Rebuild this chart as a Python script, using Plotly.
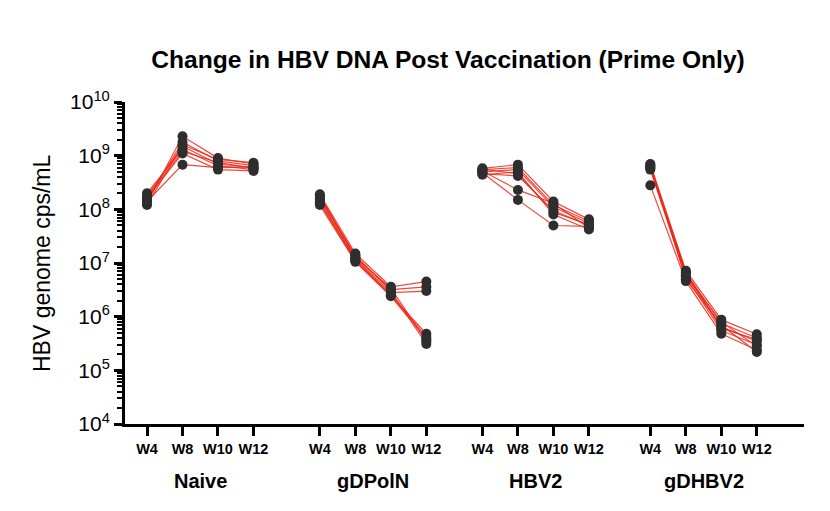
import plotly.graph_objects as go

# ---------------- data ----------------
weeks = ["W4", "W8", "W10", "W12"]
groups = ["Naive", "gDPolN", "HBV2", "gDHBV2"]

naive_w4 = [1.3e8, 1.5e8, 1.8e8, 2.0e8, 1.6e8, 1.2e8, 1.4e8, 1.7e8]
naive_w8 = [2.3e9, 1.8e9, 1.5e9, 1.3e9, 1.1e9, 1.6e9, 6.8e8, 1.2e9]
naive_w10 = [9.0e8, 8.0e8, 7.0e8, 6.5e8, 5.5e8, 8.5e8, 6.0e8, 7.5e8]
naive_w12 = [7.0e8, 6.5e8, 6.0e8, 5.5e8, 5.2e8, 7.4e8, 6.2e8, 5.8e8]

gdpoln_w4 = [1.9e8, 1.7e8, 1.5e8, 1.3e8, 1.2e8, 1.6e8, 1.4e8, 1.8e8]
gdpoln_w8 = [1.5e7, 1.3e7, 1.2e7, 1.1e7, 1.05e7, 1.4e7, 1.15e7, 1.25e7]
gdpoln_w10 = [3.6e6, 3.2e6, 2.8e6, 2.5e6, 2.4e6, 3.0e6, 2.6e6, 3.4e6]
gdpoln_w12 = [4.5e6, 3.6e6, 3.0e6, 4.8e5, 3.8e5, 3.1e5, 4.2e5, 3.5e5]

hbv2_w4 = [5.8e8, 5.5e8, 5.0e8, 4.6e8, 4.4e8, 5.2e8, 4.8e8, 5.6e8]
hbv2_w8 = [6.8e8, 6.0e8, 5.5e8, 4.2e8, 5.0e8, 2.3e8, 1.5e8, 4.6e8]
hbv2_w10 = [1.4e8, 1.2e8, 1.1e8, 9.5e7, 8.0e7, 1.3e8, 5.0e7, 8.8e7]
hbv2_w12 = [6.5e7, 6.0e7, 5.5e7, 5.0e7, 4.2e7, 4.5e7, 4.8e7, 5.2e7]

gdhbv2_w4 = [7.0e8, 6.5e8, 6.0e8, 5.5e8, 2.8e8, 6.8e8, 5.8e8, 6.2e8]
gdhbv2_w8 = [7.2e6, 6.5e6, 6.0e6, 5.5e6, 4.6e6, 5.0e6, 6.8e6, 5.8e6]
gdhbv2_w10 = [8.8e5, 7.5e5, 6.5e5, 5.5e5, 4.8e5, 7.0e5, 6.0e5, 8.0e5]
gdhbv2_w12 = [4.7e5, 4.0e5, 3.5e5, 3.0e5, 2.4e5, 2.2e5, 3.8e5, 2.8e5]

group_data = [
    [naive_w4, naive_w8, naive_w10, naive_w12],
    [gdpoln_w4, gdpoln_w8, gdpoln_w10, gdpoln_w12],
    [hbv2_w4, hbv2_w8, hbv2_w10, hbv2_w12],
    [gdhbv2_w4, gdhbv2_w8, gdhbv2_w10, gdhbv2_w12],
]

y_tick_exponents = [4, 5, 6, 7, 8, 9, 10]

# ---------------- layout constants ----------------
GROUP_START = [0, 4.87, 9.45, 14.18]   # x position of first week in each group
LINE_COLOR = "rgba(235,40,25,0.85)"
MARKER_COLOR = "#2e2e2e"
FONT = "Liberation Sans, Arial, sans-serif"

fig = go.Figure()

tick_x, tick_text = [], []
line_x, line_y = [], []
mk_x, mk_y = [], []
for g, series in enumerate(group_data):
    xs = [GROUP_START[g] + i for i in range(len(weeks))]
    tick_x += xs
    tick_text += weeks
    n_animals = len(series[0])
    for a in range(n_animals):
        for i in range(len(weeks)):
            line_x.append(xs[i])
            line_y.append(series[i][a])
        line_x.append(None)
        line_y.append(None)
    for i in range(len(weeks)):
        for v in series[i]:
            mk_x.append(xs[i])
            mk_y.append(v)

fig.add_trace(go.Scatter(x=line_x, y=line_y, mode="lines",
                         line=dict(color=LINE_COLOR, width=1.2),
                         hoverinfo="skip", showlegend=False))
fig.add_trace(go.Scatter(x=mk_x, y=mk_y, mode="markers",
                         marker=dict(color=MARKER_COLOR, size=10, line=dict(width=0)),
                         showlegend=False))

minor_vals = [k * 10 ** n for n in range(4, 10) for k in range(2, 10)]

fig.update_layout(
    width=830, height=511,
    margin=dict(l=117, r=34, t=94, b=95),
    plot_bgcolor="white", paper_bgcolor="white",
    font=dict(family=FONT, color="black"),
    title=dict(text="Change in HBV DNA Post Vaccination (Prime Only)",
               x=440 / 830, xanchor="center", xref="container",
               y=1 - 51 / 511, yanchor="middle", yref="container",
               font=dict(family=FONT, size=24.6, color="black", weight="bold")),
    xaxis=dict(range=[-0.62, 18.51], showgrid=False, zeroline=False,
               showline=True, linecolor="black", linewidth=3,
               tickmode="array", tickvals=tick_x, ticktext=tick_text,
               ticks="outside", ticklen=9, tickwidth=3, tickcolor="black",
               tickfont=dict(family=FONT, size=14.5, color="black", weight="bold"),
               ticklabelstandoff=1),
    yaxis=dict(type="log", range=[4, 10], showgrid=False, zeroline=False,
               showline=True, linecolor="black", linewidth=3,
               tickmode="array",
               tickvals=[10 ** e for e in y_tick_exponents],
               ticktext=["10<sup>%d</sup>" % e for e in y_tick_exponents],
               ticks="outside", ticklen=8, tickwidth=3, tickcolor="black",
               tickfont=dict(family=FONT, size=21, color="black"),
               minor=dict(tickmode="array", tickvals=minor_vals,
                          ticks="outside", ticklen=5, tickwidth=2,
                          tickcolor="black", showgrid=False)),
)

# y-axis title
fig.add_annotation(text="HBV genome cps/mL", textangle=-90,
                   xref="paper", yref="paper", x=0, y=0.5,
                   xanchor="center", yanchor="middle", xshift=-83,
                   showarrow=False,
                   font=dict(family=FONT, size=23, color="black"))

# group labels
for g, name in enumerate(groups):
    fig.add_annotation(text=name, xref="x", yref="paper",
                       x=GROUP_START[g] + 1.5, y=0,
                       xanchor="center", yanchor="middle", yshift=-57,
                       showarrow=False,
                       font=dict(family=FONT, size=20, color="black", weight="bold"))

fig.write_html("out.html")
